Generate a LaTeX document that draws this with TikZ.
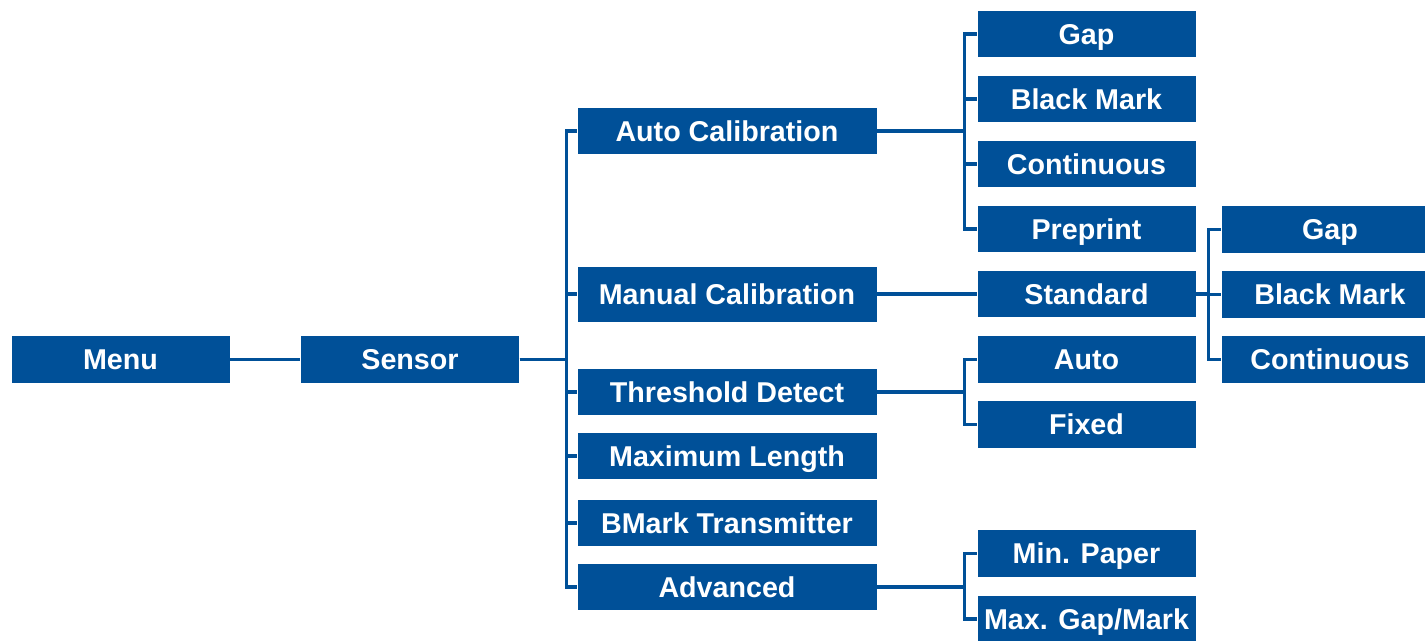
\documentclass[tikz,border=0pt]{standalone}
\usepackage{fontspec}
\setmainfont{Liberation Sans}
\definecolor{boxblue}{RGB}{0,80,152}
\begin{document}
\begin{tikzpicture}[x=0.75pt,y=-0.75pt,
  box/.style={fill=boxblue,draw=white,line width=0.6pt,text=white,inner sep=0pt,
    text height=15.4pt,text depth=0pt,
    minimum height=35.5pt,font=\fontsize{21.5}{24}\selectfont\bfseries},
  wA/.style={minimum width=164.25pt},
  wB/.style={minimum width=225pt},
  wC/.style={minimum width=164.25pt},
  wD/.style={minimum width=163.5pt},
  link/.style={draw=boxblue,line width=2.3pt,line join=miter}]
\useasboundingbox (0,0) rectangle (1425,641);
% level 1
\node[box,wA] (menu) at (120.5,359.5) {Menu};
\node[box,wA] (sensor) at (410,359.5) {Sensor};
% level 2
\node[box,wB] (autocal) at (727,131) {Auto Calibration};
\node[box,wB,minimum height=42pt] (mancal) at (727,294) {Manual Calibration};
\node[box,wB] (thresh) at (727,392) {Threshold Detect};
\node[box,wB] (maxlen) at (727,456) {Maximum Length};
\node[box,wB] (bmark) at (727,523) {BMark Transmitter};
\node[box,wB] (adv) at (727,587) {Advanced};
% level 3
\node[box,wC] (gap1) at (1086.5,34) {Gap};
\node[box,wC] (bm1) at (1086.5,99) {Black Mark};
\node[box,wC] (cont1) at (1086.5,164) {Continuous};
\node[box,wC] (prep) at (1086.5,229) {Preprint};
\node[box,wC] (std) at (1086.5,294) {Standard};
\node[box,wC] (auto) at (1086.5,359.5) {Auto};
\node[box,wC] (fixed) at (1086.5,424.5) {Fixed};
\node[box,wC] (minp) at (1086.5,553.5) {Min. Paper};
\node[box,wC] (maxg) at (1086.5,619) {Max. Gap/Mark};
% level 4
\node[box,wD] (gap2) at (1330,229.5) {Gap};
\node[box,wD] (bm2) at (1330,294.5) {Black Mark};
\node[box,wD] (cont2) at (1330,359.5) {Continuous};
% connectors
\draw[link] (menu) -- (sensor);
\foreach \c in {autocal,mancal,thresh,maxlen,bmark,adv}
  \draw[link] (sensor.east) -- ++(47,0) |- (\c.west);
\foreach \c in {gap1,bm1,cont1,prep}
  \draw[link] (autocal.east) -- ++(87,0) |- (\c.west);
\draw[link] (mancal) -- (std);
\foreach \c in {auto,fixed}
  \draw[link] (thresh.east) -- ++(87,0) |- (\c.west);
\foreach \c in {minp,maxg}
  \draw[link] (adv.east) -- ++(87,0) |- (\c.west);
\foreach \c in {gap2,bm2,cont2}
  \draw[link] (std.east) -- ++(12,0) |- (\c.west);
\end{tikzpicture}
\end{document}
